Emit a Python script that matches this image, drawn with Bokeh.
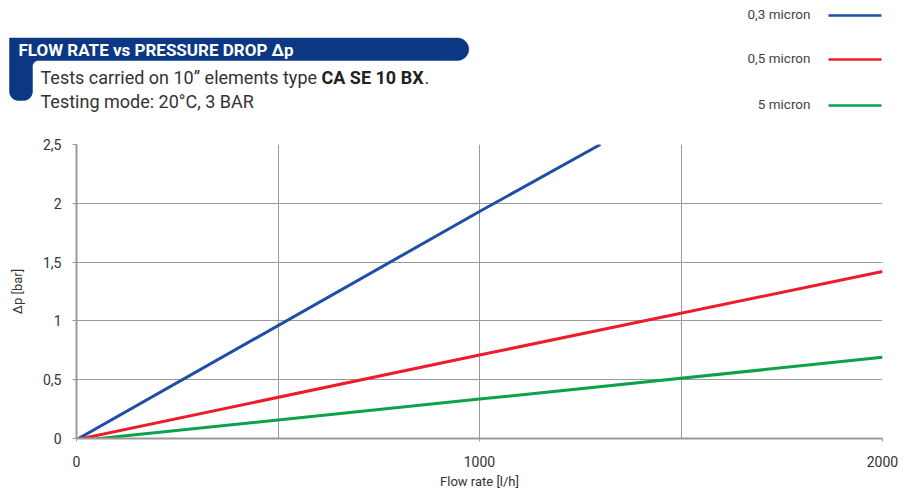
import numpy as np
from bokeh.plotting import figure
from bokeh.layouts import column
from bokeh.models import Range1d, FixedTicker
from bokeh.core.properties import value
from bokeh.embed import file_html
from bokeh.resources import INLINE

# ---- data ----
flow_03 = [0, 1000, 1300]
dp_03 = [-0.01, 1.93, 2.5]
flow_05 = [0, 1000, 2000]
dp_05 = [-0.01, 0.71, 1.42]
flow_5 = [0, 1000, 2000]
dp_5 = [-0.02, 0.335, 0.69]

series_names = ["0,3 micron", "0,5 micron", "5 micron"]
series_colors = ["#1f4ea6", "#ec1c2a", "#0ca14b"]

y_ticks = [0, 0.5, 1, 1.5, 2, 2.5]
y_tick_labels = ["0", "0,5", "1", "1,5", "2", "2,5"]
x_ticks = [0, 1000, 2000]
x_grid = [500, 1000, 1500, 2000]

FONT = "Roboto"
TXT = "#333333"
NAVY = "#0c3883"
GRID = "#9a9a9a"

W, H, HH = 905, 490, 136          # page width, height, header height
FL, FR, FT, FB = 76, 882, 144, 438  # plot frame in page pixels
TEXT_DY = -7                       # baseline correction for header texts


def no_align(fig):
    try:
        fig.frame_align = False
    except Exception:
        pass


# ---- header: a figure whose data space is page pixels ----
hdr = figure(width=W, height=HH, output_backend="svg", toolbar_location=None,
             x_range=Range1d(0, W), y_range=Range1d(HH, 0),
             min_border=0, outline_line_color=None)
hdr.axis.visible = False
hdr.grid.visible = False
no_align(hdr)


def arc(cx, cy, r, a0, a1, n=16):
    t = np.radians(np.linspace(a0, a1, n))
    return list(cx + r * np.cos(t)), list(cy + r * np.sin(t))


bx, by = [9], [37.5]
for (cx, cy, r, a0, a1) in [(457, 48.75, 11.25, -90, 90),
                            (38, 66, 6, 270, 180),
                            (23, 91, 9, 0, 90),
                            (18, 91, 9, 90, 180)]:
    ax_, ay_ = arc(cx, cy, r, a0, a1)
    bx += ax_
    by += ay_
hdr.patch(bx, by, fill_color=NAVY, line_color=NAVY, line_width=0.5)


def add_text(x, y, text, size, color=TXT, bold=False, align="left"):
    hdr.text(x=[x], y=[y + TEXT_DY], text=[text], text_font=value(FONT),
             text_font_size=size, text_color=color,
             text_font_style="bold" if bold else "normal",
             text_align=align, text_baseline="alphabetic")


add_text(18, 56, "FLOW RATE vs PRESSURE DROP \u0394p", "17px", color="white", bold=True)
add_text(40, 84, "Tests carried on 10\u201d elements type", "18px")
add_text(321, 84, "CA SE 10 BX", "18px", color="#222222", bold=True)
add_text(424, 84, ".", "18px")
add_text(40, 108, "Testing mode: 20\u00b0C, 3 BAR", "18px")

leg_y = [15, 59, 105]
for name, c, ly in zip(series_names, series_colors, leg_y):
    add_text(810, ly + 5, name, "13.5px", color="#444444", align="right")
hdr.segment(x0=[828] * 3, y0=leg_y, x1=[881] * 3, y1=leg_y,
            line_color=series_colors, line_width=2.5)

# ---- main chart ----
p = figure(frame_width=FR - FL, frame_height=FB - FT, output_backend="svg",
           toolbar_location=None, x_range=Range1d(0, 2000), y_range=Range1d(0, 2.5),
           min_border_left=FL, min_border_right=W - FR,
           min_border_top=FT - HH, min_border_bottom=H - FB, outline_line_color=None)
no_align(p)

for fx, dy, c in zip([flow_03, flow_05, flow_5], [dp_03, dp_05, dp_5], series_colors):
    p.line(fx, dy, line_color=c, line_width=3)

p.xaxis.ticker = FixedTicker(ticks=x_ticks)
p.xgrid.ticker = FixedTicker(ticks=x_grid)
p.yaxis.ticker = FixedTicker(ticks=y_ticks)
p.yaxis.major_label_overrides = {t: l for t, l in zip(y_ticks, y_tick_labels)}
for g in (p.xgrid, p.ygrid):
    g.grid_line_color = GRID
    g.grid_line_width = 1

for ax in (p.xaxis, p.yaxis):
    ax.axis_line_color = GRID
    ax.axis_line_width = 2
    ax.major_tick_line_color = GRID
    ax.minor_tick_line_color = None
    ax.major_tick_in = 0
    ax.major_label_text_font = FONT
    ax.major_label_text_font_size = "14px"
    ax.major_label_text_color = TXT
    ax.axis_label_text_font = FONT
    ax.axis_label_text_font_size = "13px"
    ax.axis_label_text_font_style = "normal"
    ax.axis_label_text_color = TXT

p.xaxis.major_tick_out = 3
p.yaxis.major_tick_out = 4
p.xaxis.major_label_standoff = 14
p.yaxis.major_label_standoff = 11
p.xaxis.axis_label = "Flow rate [l/h]"
p.yaxis.axis_label = "\u0394p [bar]"
p.xaxis.axis_label_standoff = 4
p.yaxis.axis_label_standoff = 15

layout = column(hdr, p, spacing=0)
open("out.html", "w").write(file_html(layout, INLINE))
